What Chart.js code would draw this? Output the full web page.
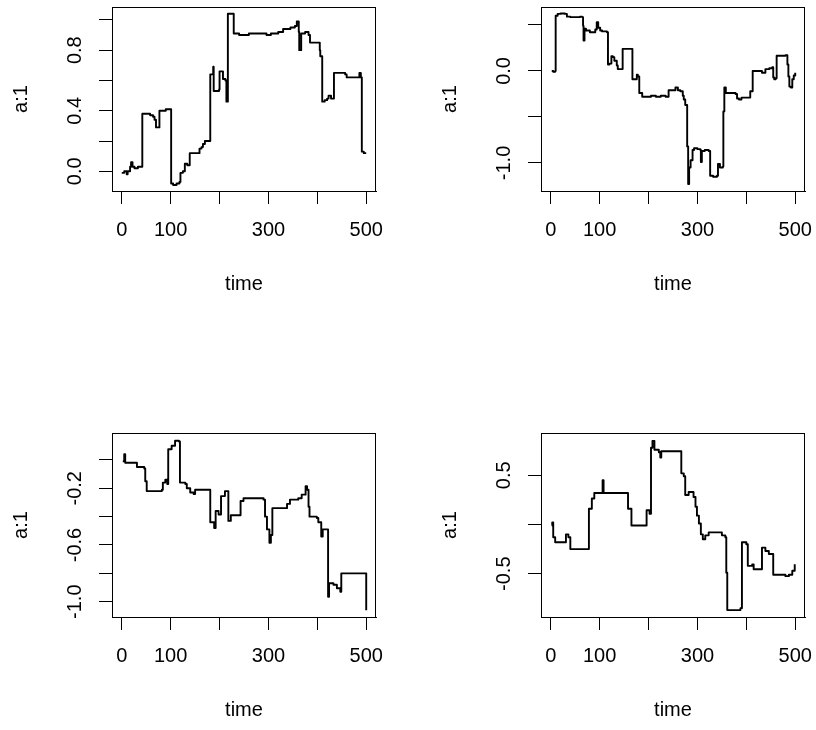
<!DOCTYPE html>
<html><head><meta charset="utf-8">
<script src="https://cdn.jsdelivr.net/npm/chart.js@4"></script>
<style>
html,body{margin:0;padding:0;background:#fff;overflow:hidden;width:816px;height:730px;}
canvas{position:absolute;}
</style></head><body>
<canvas id="c1" width="429" height="427" style="left:0;top:0"></canvas>
<canvas id="c2" width="429" height="427" style="left:429px;top:0"></canvas>
<canvas id="c3" width="429" height="427" style="left:0;top:426px"></canvas>
<canvas id="c4" width="429" height="427" style="left:429px;top:426px"></canvas>
<script>
// ---- shared axis ticks ----
const xTicks = [0, 100, 200, 300, 400, 500];
const xTickLabels = ['0', '100', '', '300', '', '500'];
const xTitle = 'time';
const yTitle = 'a:1';

// ---- panel 1 (top-left) ----
const p1Time = [0,5,10,12,17,19,22,26,33,41,42,50,58,64,67,70,75,77,85,90,100,101,105,112,118,120,125,129,134,139,145,156,159,163,166,170,180,181,185,187,188,195,199,200,204,207,212,214,216,217,224,228,229,240,260,280,296,305,320,327,330,345,354,358,362,363,367,375,382,385,395,402,405,406,410,415,420,423,428,433,434,445,457,460,477,484,486,489,491,495,500];
const p1Value = [-0.01,0.0,-0.02,0.0,0.03,0.06,0.03,0.02,0.03,0.03,0.38,0.38,0.37,0.36,0.34,0.29,0.29,0.40,0.40,0.41,0.41,-0.08,-0.09,-0.08,-0.07,-0.01,0.0,0.05,0.04,0.12,0.12,0.12,0.15,0.16,0.18,0.20,0.20,0.64,0.64,0.69,0.53,0.53,0.54,0.66,0.66,0.61,0.60,0.46,0.46,1.04,1.04,1.04,0.91,0.90,0.91,0.91,0.90,0.91,0.92,0.92,0.94,0.95,0.96,0.99,0.92,0.80,0.91,0.92,0.90,0.85,0.85,0.85,0.80,0.76,0.46,0.47,0.48,0.50,0.48,0.48,0.65,0.65,0.64,0.62,0.62,0.62,0.65,0.62,0.13,0.12,0.12];
const p1YTicks = [0, 0.2, 0.4, 0.6, 0.8, 1.0];
const p1YTickLabels = ['0.0', '', '0.4', '', '0.8', ''];

// ---- panel 2 (top-right) ----
const p2Time = [2,5,9,10,14,20,29,33,40,50,60,64,66,67,69,72,80,88,91,94,97,101,105,115,117,120,124,127,130,135,137,145,147,155,166,167,173,176,178,181,187,195,205,215,225,235,241,248,255,260,265,270,272,275,279,281,283,286,290,293,300,306,307,309,315,323,326,332,340,342,346,352,353,355,358,365,372,378,381,385,390,400,405,408,413,420,432,439,447,453,455,457,460,462,470,480,484,486,488,491,494,497,500];
const p2Value = [0.0,-0.01,0.0,0.60,0.62,0.625,0.62,0.59,0.585,0.585,0.59,0.585,0.49,0.33,0.46,0.44,0.42,0.42,0.45,0.53,0.47,0.44,0.43,0.42,0.07,0.08,0.16,0.15,0.11,0.06,0.02,0.02,0.24,0.24,0.24,-0.09,-0.09,-0.04,-0.06,-0.24,-0.28,-0.28,-0.27,-0.28,-0.27,-0.28,-0.21,-0.21,-0.18,-0.21,-0.22,-0.27,-0.31,-0.37,-0.82,-1.23,-1.05,-0.97,-0.86,-0.84,-0.85,-0.86,-0.99,-0.87,-0.86,-0.87,-1.14,-1.15,-1.14,-1.01,-1.05,-1.04,-0.44,-0.18,-0.24,-0.24,-0.24,-0.25,-0.30,-0.31,-0.29,-0.29,-0.29,-0.22,0.0,0.0,-0.02,0.02,0.03,0.04,-0.07,-0.09,-0.08,0.165,0.165,0.17,0.07,-0.06,-0.17,-0.18,-0.09,-0.05,-0.02];
const p2YTicks = [-1.0, -0.5, 0.0, 0.5];
const p2YTickLabels = ['-1.0', '', '0.0', ''];

// ---- panel 3 (bottom-left) ----
const p3Time = [2,5,7,27,31,44,46,48,51,82,84,89,93,95,102,109,117,119,130,133,140,147,150,179,181,189,192,198,203,211,218,223,241,243,249,290,293,297,302,305,308,334,338,344,361,368,376,379,382,384,399,402,408,411,421,422,424,433,440,447,449,470,499,500];
const p3Value = [-0.01,0.04,-0.02,-0.02,-0.05,-0.05,-0.06,-0.15,-0.22,-0.21,-0.16,-0.14,-0.17,0.075,0.10,0.135,0.13,-0.16,-0.17,-0.20,-0.23,-0.24,-0.21,-0.21,-0.44,-0.48,-0.36,-0.385,-0.255,-0.22,-0.43,-0.39,-0.39,-0.29,-0.27,-0.28,-0.40,-0.49,-0.585,-0.53,-0.34,-0.34,-0.31,-0.28,-0.27,-0.245,-0.185,-0.21,-0.33,-0.40,-0.41,-0.44,-0.54,-0.49,-0.49,-0.965,-0.87,-0.88,-0.905,-0.93,-0.80,-0.80,-0.80,-1.06];
const p3YTicks = [-1.0, -0.8, -0.6, -0.4, -0.2, 0.0];
const p3YTickLabels = ['-1.0', '', '-0.6', '', '-0.2', ''];

// ---- panel 4 (bottom-right) ----
const p4Time = [2,3,5,9,29,31,35,36,40,77,78,84,89,104,106,108,156,158,165,193,196,202,205,208,212,221,224,226,265,267,272,275,282,289,292,296,299,303,307,311,316,323,347,350,357,359,361,388,391,400,403,412,415,427,432,439,446,453,455,480,487,494,499];
const p4Value = [-0.01,0.02,-0.13,-0.18,-0.18,-0.10,-0.10,-0.13,-0.25,-0.25,0.16,0.265,0.32,0.32,0.45,0.32,0.32,0.16,-0.01,-0.01,0.145,0.11,0.78,0.85,0.76,0.735,0.68,0.745,0.745,0.52,0.49,0.30,0.33,0.33,0.28,0.18,0.09,0.01,-0.10,-0.15,-0.11,-0.08,-0.08,-0.11,-0.13,-0.49,-0.87,-0.85,-0.18,-0.20,-0.42,-0.405,-0.455,-0.455,-0.235,-0.27,-0.30,-0.30,-0.51,-0.525,-0.51,-0.47,-0.405];
const p4YTicks = [-0.5, 0.0, 0.5];
const p4YTickLabels = ['-0.5', '', '0.5'];

// ---- drawing ----
const FONT_FAMILY = '"Liberation Sans", Arial, sans-serif';
const FONT_SIZE = 20;
const TICK_LEN = 13;
Chart.defaults.font.family = FONT_FAMILY;
Chart.defaults.font.size = FONT_SIZE;
Chart.defaults.color = '#000';

const measureCtx = document.createElement('canvas').getContext('2d');
measureCtx.font = FONT_SIZE + 'px ' + FONT_FAMILY;
function widest(labels) {
  return Math.max(...labels.filter(l => l).map(l => measureCtx.measureText(l).width));
}

const boxPlugin = {
  id: 'rbox',
  afterDraw(chart) {
    const {ctx, chartArea: a} = chart;
    ctx.save();
    ctx.strokeStyle = '#000';
    ctx.lineWidth = 1;
    ctx.strokeRect(Math.round(a.left) + 0.5, Math.round(a.top) + 0.5, Math.round(a.right - a.left) - 1, Math.round(a.bottom - a.top));
    ctx.restore();
  }
};

function makePanel(id, time, value, yTicks, yLabels, yMin, yMax) {
  const yPad = 37 - TICK_LEN - widest(yLabels) / 2;
  new Chart(document.getElementById(id), {
    type: 'line',
    data: {
      datasets: [{
        data: time.map((t, i) => ({x: t, y: value[i]})),
        borderColor: '#000',
        borderWidth: 1.9,
        pointRadius: 0,
        stepped: 'before',
        fill: false,
        borderJoinStyle: 'round'
      }]
    },
    options: {
      responsive: false,
      animation: false,
      events: [],
      layout: {padding: {left: 0, top: 7, right: 53, bottom: 0}},
      plugins: {legend: {display: false}, tooltip: {enabled: false}},
      scales: {
        x: {
          type: 'linear', min: -20, max: 520,
          afterBuildTicks: s => { s.ticks = xTicks.map(v => ({value: v})); },
          afterFit: s => { s.height = 236; s.paddingLeft = 0; s.paddingRight = 0; },
          grid: {drawOnChartArea: false, drawTicks: true, tickLength: TICK_LEN, color: '#000', lineWidth: 1},
          border: {display: true, color: '#000', width: 1},
          ticks: {autoSkip: false, maxRotation: 0, minRotation: 0, padding: 14, color: '#000',
                  callback: (v, i) => xTickLabels[i]},
          title: {display: true, text: xTitle, color: '#000', font: {size: FONT_SIZE}, padding: {top: 0, bottom: 131}}
        },
        y: {
          type: 'linear', min: yMin, max: yMax,
          afterBuildTicks: s => { s.ticks = yTicks.map(v => ({value: v})); },
          afterFit: s => { s.width = 112; s.paddingTop = 0; s.paddingBottom = 0; },
          grid: {drawOnChartArea: false, drawTicks: true, tickLength: TICK_LEN, color: '#000', lineWidth: 1},
          border: {display: true, color: '#000', width: 1},
          ticks: {autoSkip: false, minRotation: 90, maxRotation: 90, crossAlign: 'center', padding: yPad, color: '#000',
                  callback: (v, i) => yLabels[i]},
          title: {display: true, text: yTitle, color: '#000', font: {size: FONT_SIZE}, padding: {top: 9, bottom: 0}}
        }
      }
    },
    plugins: [boxPlugin]
  });
}

makePanel('c1', p1Time, p1Value, p1YTicks, p1YTickLabels, -0.13, 1.085);
makePanel('c2', p2Time, p2Value, p2YTicks, p2YTickLabels, -1.305, 0.695);
makePanel('c3', p3Time, p3Value, p3YTicks, p3YTickLabels, -1.108, 0.19);
makePanel('c4', p4Time, p4Value, p4YTicks, p4YTickLabels, -0.94, 0.93);
</script>
</body></html>
